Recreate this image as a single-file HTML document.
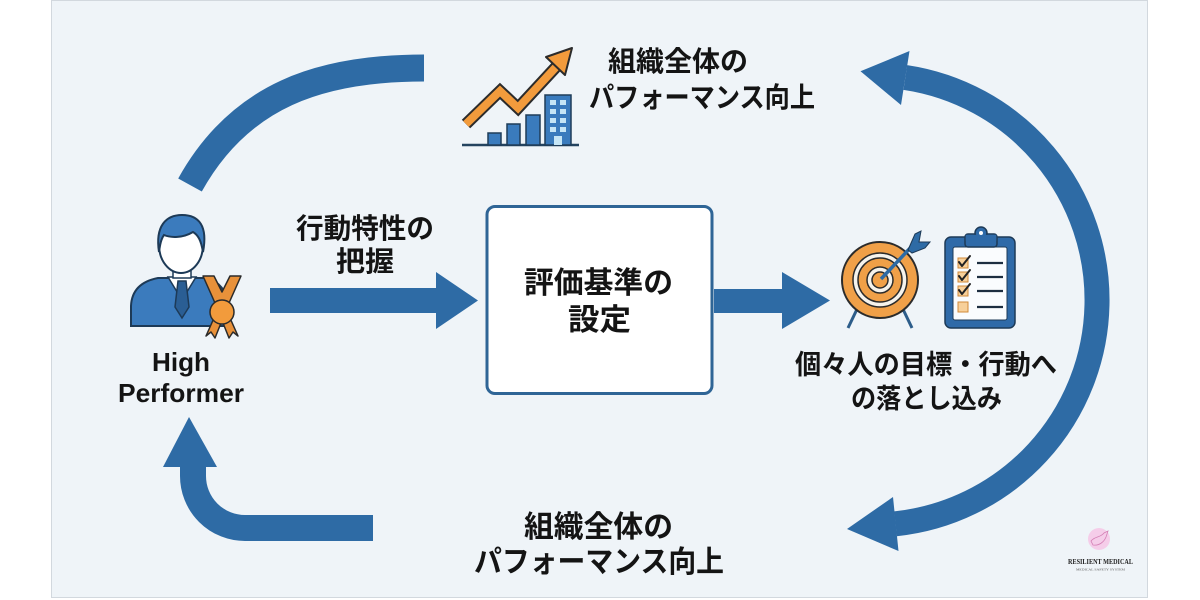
<!DOCTYPE html>
<html><head><meta charset="utf-8"><style>
html,body{margin:0;padding:0;background:#fff;width:1200px;height:600px;overflow:hidden}
svg{display:block}
.t{font-family:"Liberation Sans","Noto Sans CJK JP",sans-serif;font-weight:bold;fill:#141414}
</style></head><body>
<svg width="1200" height="600" viewBox="0 0 1200 600" xmlns="http://www.w3.org/2000/svg">
<rect width="1200" height="600" fill="#ffffff"/>
<rect x="51.5" y="0.5" width="1096" height="597" fill="#eff4f8" stroke="#d2d8de" stroke-width="1"/>

<!-- top-left arc -->
<path d="M190 185 C240 95 320 68 424 68" fill="none" stroke="#2e6ba5" stroke-width="27"/>

<!-- chart icon -->
<line x1="462" y1="145" x2="579" y2="145" stroke="#24435f" stroke-width="2.5"/>
<rect x="488" y="133" width="13" height="12" fill="#3a7bbd" stroke="#1f3c58" stroke-width="1.5"/>
<rect x="507" y="124" width="13" height="21" fill="#3a7bbd" stroke="#1f3c58" stroke-width="1.5"/>
<rect x="526" y="115" width="14" height="30" fill="#3a7bbd" stroke="#1f3c58" stroke-width="1.5"/>
<rect x="545" y="95" width="26" height="50" fill="#3a7bbd" stroke="#1f3c58" stroke-width="1.5"/>
<g fill="#c6e6f6">
<rect x="550" y="100" width="6" height="5"/><rect x="560" y="100" width="6" height="5"/>
<rect x="550" y="109" width="6" height="5"/><rect x="560" y="109" width="6" height="5"/>
<rect x="550" y="118" width="6" height="5"/><rect x="560" y="118" width="6" height="5"/>
<rect x="550" y="127" width="6" height="5"/><rect x="560" y="127" width="6" height="5"/>
<rect x="554" y="136" width="8" height="9"/>
</g>
<polyline points="466,124 500,91 518,108 556,67" fill="none" stroke="#2b2b2b" stroke-width="12" stroke-linejoin="miter"/>
<polyline points="466,124 500,91 518,108 556,67" fill="none" stroke="#f29b3c" stroke-width="8" stroke-linejoin="miter"/>
<polygon points="572,48 546,57 565,75" fill="#f29b3c" stroke="#2b2b2b" stroke-width="2" stroke-linejoin="round"/>

<!-- top label -->
<text class="t" x="608" y="71" font-size="28" textLength="140" lengthAdjust="spacingAndGlyphs">組織全体の</text>
<text class="t" x="589" y="107" font-size="28" textLength="226" lengthAdjust="spacingAndGlyphs">パフォーマンス向上</text>

<!-- right big arc -->
<path d="M905.3 77.5 A225 225 0 0 1 895.5 523.8" fill="none" stroke="#2e6ba5" stroke-width="25"/>
<polygon points="860.5,71.3 909.5,51 901,105" fill="#2e6ba5"/>
<polygon points="847,529 898.5,551 893,497" fill="#2e6ba5"/>

<!-- person icon -->
<path d="M131 326 L131 306 Q132 283 158 278 L206 278 Q226 283 228 306 L228 326 Z" fill="#3b7bbd" stroke="#1d3a57" stroke-width="2"/>
<polygon points="168,277 182,300 196,277" fill="#ffffff" stroke="#1d3a57" stroke-width="1.5"/>
<rect x="173" y="264" width="18" height="14" fill="#ffffff" stroke="#1d3a57" stroke-width="1.5"/>
<polygon points="178,281 186,281 189,307 182,318 175,307" fill="#2a5e94" stroke="#1d3a57" stroke-width="1.5"/>
<ellipse cx="181" cy="245" rx="22" ry="28" fill="#ffffff" stroke="#1d3a57" stroke-width="2"/>
<path d="M159 252 C155 226 166 215 182 215 C199 215 208 226 203 252 C201 240 198 235 193 232 C183 238 171 238 164 235 C161 239 160 245 159 252 Z" fill="#3b7bbd" stroke="#1d3a57" stroke-width="2"/>
<!-- medal -->
<polygon points="203,276 214,276 222,292 230,276 241,276 229,303 215,303" fill="#e8913a" stroke="#2b2b2b" stroke-width="1.5" stroke-linejoin="round"/>
<polygon points="214,318 221,323 215,338 211,332 206,336" fill="#e8913a" stroke="#2b2b2b" stroke-width="1.5" stroke-linejoin="round"/>
<polygon points="230,318 223,323 229,338 233,332 238,336" fill="#e8913a" stroke="#2b2b2b" stroke-width="1.5" stroke-linejoin="round"/>
<circle cx="222" cy="312" r="12" fill="#f29b3c" stroke="#2b2b2b" stroke-width="1.5"/>

<text class="t" x="152" y="371" font-size="26" textLength="58" lengthAdjust="spacingAndGlyphs">High</text>
<text class="t" x="118" y="402" font-size="26" textLength="126" lengthAdjust="spacingAndGlyphs">Performer</text>

<!-- arrow 1 -->
<text class="t" x="296" y="238" font-size="28" textLength="138" lengthAdjust="spacingAndGlyphs">行動特性の</text>
<text class="t" x="336" y="271" font-size="28" textLength="58" lengthAdjust="spacingAndGlyphs">把握</text>
<polygon points="270,288 436,288 436,272 478,300.5 436,329 436,313 270,313" fill="#2e6ba5"/>

<!-- center box -->
<rect x="487" y="206.5" width="225" height="187" rx="8" fill="#ffffff" stroke="#2f6596" stroke-width="3"/>
<text class="t" x="524" y="293" font-size="30" textLength="149" lengthAdjust="spacingAndGlyphs">評価基準の</text>
<text class="t" x="568" y="330" font-size="30" textLength="63" lengthAdjust="spacingAndGlyphs">設定</text>

<!-- arrow 2 -->
<polygon points="714,289 782,289 782,272 830,300.5 782,329 782,313 714,313" fill="#2e6ba5"/>

<!-- target icon -->
<line x1="859" y1="305" x2="848" y2="328" stroke="#2d5d8a" stroke-width="3"/>
<line x1="901" y1="305" x2="912" y2="328" stroke="#2d5d8a" stroke-width="3"/>
<circle cx="880" cy="280" r="38" fill="#f0a048" stroke="#2b2b2b" stroke-width="2"/>
<circle cx="880" cy="280" r="27" fill="#f6f3ec" stroke="#2b2b2b" stroke-width="1.5"/>
<circle cx="880" cy="280" r="22" fill="#f0a048" stroke="#2b2b2b" stroke-width="1.5"/>
<circle cx="880" cy="280" r="13" fill="#f6f3ec" stroke="#2b2b2b" stroke-width="1.5"/>
<circle cx="880" cy="280" r="8" fill="#f0a048" stroke="#2b2b2b" stroke-width="1.5"/>
<line x1="881" y1="279" x2="914" y2="244" stroke="#2e6ba5" stroke-width="3.5"/>
<polygon points="908,250 915,234 921,231 919,242 930,242 925,248 912,253" fill="#2e6ba5" stroke="#1d3a57" stroke-width="1"/>

<!-- clipboard -->
<rect x="945" y="237" width="70" height="91" rx="6" fill="#2f6aa8" stroke="#1d3a57" stroke-width="1.5"/>
<rect x="953" y="247" width="54" height="73" rx="2" fill="#fafcfe" stroke="#1d3a57" stroke-width="1"/>
<rect x="965" y="234" width="32" height="13" rx="3" fill="#2f6aa8" stroke="#1d3a57" stroke-width="1.5"/>
<circle cx="981" cy="233" r="6" fill="#2f6aa8" stroke="#1d3a57" stroke-width="1.5"/>
<rect x="965.8" y="234.8" width="30.4" height="6" fill="#2f6aa8"/>
<circle cx="981" cy="233" r="2" fill="#ffffff"/>
<g fill="#f7d09a" stroke="#d08a3a" stroke-width="1">
<rect x="958" y="258" width="10" height="10"/>
<rect x="958" y="272" width="10" height="10"/>
<rect x="958" y="286" width="10" height="10"/>
<rect x="958" y="302" width="10" height="10"/>
</g>
<g fill="none" stroke="#222" stroke-width="2" stroke-linecap="round" stroke-linejoin="round">
<polyline points="959,262 962,266 970,256"/>
<polyline points="959,276 962,280 970,270"/>
<polyline points="959,290 962,294 970,284"/>
</g>
<g stroke="#1d2e40" stroke-width="2.2">
<line x1="977" y1="263" x2="1003" y2="263"/>
<line x1="977" y1="277" x2="1003" y2="277"/>
<line x1="977" y1="291" x2="1003" y2="291"/>
<line x1="977" y1="307" x2="1003" y2="307"/>
</g>

<text class="t" x="795" y="374" font-size="27" textLength="262" lengthAdjust="spacingAndGlyphs">個々人の目標・行動へ</text>
<text class="t" x="851" y="408" font-size="27" textLength="151" lengthAdjust="spacingAndGlyphs">の落とし込み</text>

<!-- bottom-left return arrow -->
<path d="M373 528 L245 528 A52 52 0 0 1 193 476 L193 464" fill="none" stroke="#2e6ba5" stroke-width="26"/>
<polygon points="189,417 163,467 217,467" fill="#2e6ba5"/>

<!-- bottom label -->
<text class="t" x="524" y="537" font-size="30" textLength="149" lengthAdjust="spacingAndGlyphs">組織全体の</text>
<text class="t" x="474" y="572" font-size="30" textLength="250" lengthAdjust="spacingAndGlyphs">パフォーマンス向上</text>

<!-- logo -->
<circle cx="1099" cy="539" r="11" fill="#f6c6e6" opacity="0.85"/>
<path d="M1091 541 C1095 536 1100 538 1104 533 L1108 531 L1106 537 C1104 542 1099 546 1093 545 Z" fill="none" stroke="#d47fb5" stroke-width="0.8"/>
<text x="1068" y="564" font-family="'Liberation Serif',serif" font-weight="bold" font-size="7" fill="#222" textLength="65" lengthAdjust="spacingAndGlyphs">RESILIENT MEDICAL</text>
<text x="1076" y="570.5" font-family="'Liberation Serif',serif" font-size="3" fill="#555" textLength="49" lengthAdjust="spacingAndGlyphs">MEDICAL SAFETY SYSTEM</text>
</svg>
</body></html>
